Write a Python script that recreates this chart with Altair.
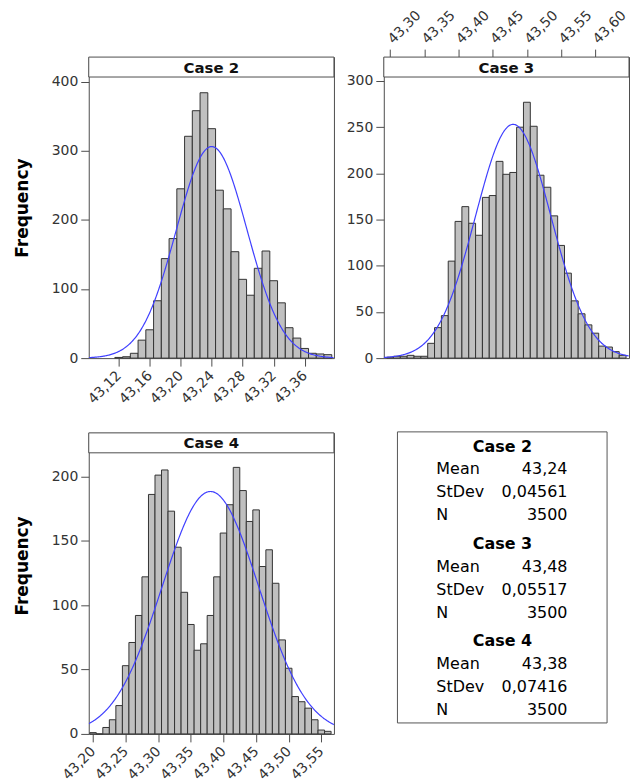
import altair as alt
import pandas as pd

# ---------------- data ----------------
cases = ["Case 2", "Case 3", "Case 4"]
means = [43.24, 43.48, 43.38]
stdevs = [0.04561, 0.05517, 0.07416]
ns = [3500, 3500, 3500]
bin_width = 0.01

c2_mid = [43.12, 43.13, 43.14, 43.15, 43.16, 43.17, 43.18, 43.19, 43.20, 43.21,
          43.22, 43.23, 43.24, 43.25, 43.26, 43.27, 43.28, 43.29, 43.30, 43.31,
          43.32, 43.33, 43.34, 43.35, 43.36, 43.37, 43.38, 43.39]
c2_count = [1, 2, 7, 26, 41, 83, 144, 173, 245, 321,
            358, 384, 332, 243, 216, 154, 114, 91, 130, 155,
            112, 80, 44, 29, 14, 7, 6, 5]

c3_mid = [43.30, 43.31, 43.32, 43.33, 43.34, 43.35, 43.36, 43.37, 43.38, 43.39,
          43.40, 43.41, 43.42, 43.43, 43.44, 43.45, 43.46, 43.47, 43.48, 43.49,
          43.50, 43.51, 43.52, 43.53, 43.54, 43.55, 43.56, 43.57, 43.58, 43.59,
          43.60, 43.61, 43.62, 43.63, 43.64]
c3_count = [1, 2, 2, 3, 2, 2, 16, 33, 46, 105,
            148, 164, 146, 133, 174, 176, 213, 199, 201, 250,
            277, 251, 198, 185, 154, 122, 92, 62, 48, 36,
            27, 13, 12, 7, 3]

c4_mid = [43.20, 43.21, 43.22, 43.23, 43.24, 43.25, 43.26, 43.27, 43.28, 43.29,
          43.30, 43.31, 43.32, 43.33, 43.34, 43.35, 43.36, 43.37, 43.38, 43.39,
          43.40, 43.41, 43.42, 43.43, 43.44, 43.45, 43.46, 43.47, 43.48, 43.49,
          43.50, 43.51, 43.52, 43.53, 43.54, 43.55, 43.56]
c4_count = [1, 0, 5, 11, 22, 53, 71, 92, 122, 186,
            201, 205, 173, 145, 110, 85, 65, 70, 92, 122,
            156, 178, 207, 189, 165, 174, 130, 143, 117, 73,
            51, 29, 25, 20, 11, 3, 2]

x_domains = [[43.0813, 43.3978], [43.2908, 43.6493], [43.1934, 43.5694]]
y_domains = [[0, 435.6], [0, 325.9], [0, 233.8]]
x_ticks = [[43.12, 43.16, 43.20, 43.24, 43.28, 43.32, 43.36],
           [43.30, 43.35, 43.40, 43.45, 43.50, 43.55, 43.60],
           [43.20, 43.25, 43.30, 43.35, 43.40, 43.45, 43.50, 43.55]]
y_ticks = [[0, 100, 200, 300, 400],
           [0, 50, 100, 150, 200, 250, 300],
           [0, 50, 100, 150, 200]]

# ---------------- style ----------------
FONT = "DejaVu Sans"
FRAME = "#4d4d4d"
LABEL = "#333333"
W = 246
H = 302
HEADER_H = 20
comma_fmt = "replace(format(datum.value, '.2f'), '.', ',')"


def panel(i, mids, counts, x_orient, title_y):
    df = pd.DataFrame({"mid": mids, "count": counts})
    xs = alt.Scale(domain=x_domains[i], nice=False, zero=False)
    ys = alt.Scale(domain=y_domains[i], nice=False, zero=True)
    bottom = x_orient == "bottom"
    xaxis = alt.Axis(orient=x_orient, values=x_ticks[i], labelExpr=comma_fmt,
                     labelAngle=-45, labelAlign="right" if bottom else "left",
                     labelBaseline="middle", labelPadding=7 if bottom else 8,
                     tickSize=8, tickColor=FRAME, domain=False, grid=False,
                     title=None, labelOverlap=False, labelFlush=False,
                     labelBound=False, labelFont=FONT, labelFontSize=14,
                     labelColor=LABEL)
    yargs = dict(values=y_ticks[i], tickSize=8, tickColor=FRAME, labelPadding=3,
                 domain=False, grid=False, labelFont=FONT, labelFontSize=14,
                 labelOverlap=False, labelFlush=False, labelBound=False,
                 labelColor=LABEL)
    if title_y is not None:
        yaxis = alt.Axis(title="Frequency", titleFont=FONT, titleFontSize=17,
                         titleFontWeight="bold", titleColor="#000000",
                         titleAngle=270, titleAlign="center",
                         titleBaseline="middle", titleX=-66, titleY=title_y,
                         **yargs)
    else:
        yaxis = alt.Axis(title=None, **yargs)

    bars = alt.Chart(df).transform_calculate(
        x0="datum.mid - %f" % (bin_width / 2),
        x1="datum.mid + %f" % (bin_width / 2),
        base="0",
    ).mark_rect(fill="#c0c0c0", stroke="#333333", strokeWidth=1).encode(
        x=alt.X("x0:Q", scale=xs, axis=xaxis),
        x2="x1:Q",
        y=alt.Y("count:Q", scale=ys, axis=yaxis),
        y2="base:Q",
    )

    curve = alt.Chart(
        alt.sequence(x_domains[i][0], x_domains[i][1], 0.001, as_="v")
    ).transform_calculate(
        dens="%d * %f * densityNormal(datum.v, %f, %f)"
        % (ns[i], bin_width, means[i], stdevs[i])
    ).mark_line(color="#4040ff", strokeWidth=1.2, clip=True).encode(
        x=alt.X("v:Q", scale=xs, axis=xaxis),
        y=alt.Y("dens:Q", scale=ys, axis=yaxis),
    )

    hdf = pd.DataFrame({"case": [cases[i]]})
    hrect = alt.Chart(hdf).mark_rect(fill="white", stroke=FRAME, strokeWidth=1).encode(
        x=alt.value(0), x2=alt.value(W), y=alt.value(0), y2=alt.value(HEADER_H)
    )
    htext = alt.Chart(hdf).mark_text(
        font=FONT, fontWeight="bold", fontSize=15, color="#111111",
        align="center", baseline="middle"
    ).encode(x=alt.value(W / 2), y=alt.value(HEADER_H / 2 + 0.5), text="case:N")

    return alt.layer(bars, curve, hrect, htext).properties(
        width=W, height=H, view=alt.ViewBackground(stroke=FRAME, strokeWidth=1)
    )


p2 = panel(0, c2_mid, c2_count, "bottom", 151)
p3 = panel(1, c3_mid, c3_count, "top", None)
p4 = panel(2, c4_mid, c4_count, "bottom", 133)

# ---------------- summary box ----------------
rows = []
for g in range(3):
    base = g * 4.25
    rows.append(dict(kind="title", label=cases[g], value="", pos=base))
    rows.append(dict(kind="stat", label="Mean", value=str(means[g]).replace(".", ","), pos=base + 1))
    rows.append(dict(kind="stat", label="StDev", value=str(stdevs[g]).replace(".", ","), pos=base + 2))
    rows.append(dict(kind="stat", label="N", value=str(ns[g]), pos=base + 3))
sdf = pd.DataFrame(rows)
yl = alt.Y("pos:Q", scale=alt.Scale(domain=[-0.5957, 12.535], reverse=True, nice=False, zero=False), axis=None)

box = alt.Chart(pd.DataFrame({"k": [0]})).mark_rect(fill="white", stroke="#555555", strokeWidth=1).encode(
    x=alt.value(13.7), x2=alt.value(224), y=alt.value(-1), y2=alt.value(291)
)
titles = alt.Chart(sdf).transform_filter("datum.kind == 'title'").mark_text(
    font=FONT, fontWeight="bold", fontSize=16, color="#000000", align="center", baseline="middle"
).encode(x=alt.value(119), y=yl, text="label:N")
labels = alt.Chart(sdf).transform_filter("datum.kind == 'stat'").mark_text(
    font=FONT, fontSize=16, color="#000000", align="left", baseline="middle"
).encode(x=alt.value(52.7), y=yl, text="label:N")
values = alt.Chart(sdf).transform_filter("datum.kind == 'stat'").mark_text(
    font=FONT, fontSize=16, color="#000000", align="right", baseline="middle"
).encode(x=alt.value(184.3), y=yl, text="value:N")

leg = alt.layer(box, titles, labels, values).properties(
    width=W, height=H, view=alt.ViewBackground(stroke="transparent")
)

chart = alt.concat(
    p2, p3, p4, leg, columns=2, spacing={"row": 75, "column": 50}, bounds="flush"
).properties(
    padding={"left": 5, "top": -2, "right": 0, "bottom": 0}
).configure(background="white")

chart.save("out.html", embed_options={"renderer": "svg", "actions": False})
